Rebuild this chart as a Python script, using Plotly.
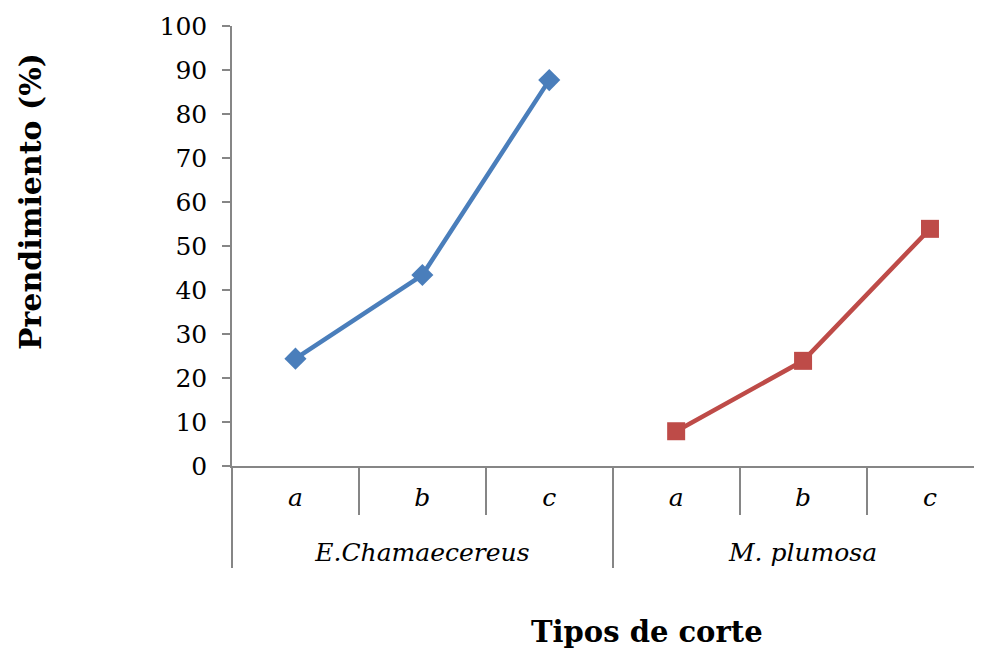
import plotly.graph_objects as go

groups = ["E.Chamaecereus", "M. plumosa"]
cuts = ["a", "b", "c"]
e_cham = [24.4, 43.4, 87.7]
m_plum = [7.9, 23.9, 53.9]
y_ticks = list(range(0, 101, 10))

FONT = "DejaVu Serif"
AX = "#868686"

def xcats(g):
    return [[f"<br><i>{g}</i>"] * 3, [f"<i>{c}</i>" for c in cuts]]

fig = go.Figure()
fig.add_trace(go.Scatter(
    x=xcats(groups[0]), y=e_cham, mode="lines+markers",
    line=dict(color="#4A7EBB", width=4.5),
    marker=dict(symbol="diamond", size=17, color="#4A7EBB"),
    showlegend=False))
fig.add_trace(go.Scatter(
    x=xcats(groups[1]), y=m_plum, mode="lines+markers",
    line=dict(color="#BE4B48", width=4.5),
    marker=dict(symbol="square", size=18, color="#BE4B48"),
    showlegend=False))

# page has an 8px body margin: figure coords = page coords - 8
W, H = 974, 640
fig.update_layout(
    width=W, height=H,
    margin=dict(l=224, r=0, t=18, b=182),
    paper_bgcolor="white", plot_bgcolor="white",
    font=dict(family=FONT, size=25, color="#000000"),
    xaxis=dict(
        type="multicategory",
        range=[-0.5, 5.41],
        showline=True, linecolor=AX, linewidth=1.5,
        ticks="outside", tickson="boundaries", ticklen=47, tickcolor=AX, tickwidth=1.5,
        showdividers=True, dividercolor=AX, dividerwidth=1.5,
        showgrid=False, zeroline=False,
        ticklabelstandoff=8,
        tickfont=dict(family=FONT, size=25),
    ),
    yaxis=dict(
        range=[0, 100], tickvals=y_ticks,
        showline=True, linecolor=AX, linewidth=1.5,
        ticks="outside", ticklen=8, tickcolor=AX, tickwidth=1.5,
        showgrid=False, zeroline=False,
        ticklabelstandoff=10,
        tickfont=dict(family=FONT, size=25),
    ),
    annotations=[
        dict(text="<b>Prendimiento (%)</b>", textangle=-90,
             xref="paper", yref="paper", x=(30 - 232) / 750, y=(466 - 202) / 440,
             xanchor="center", yanchor="middle", showarrow=False,
             font=dict(family=FONT, size=30)),
        dict(text="<b>Tipos de corte</b>",
             xref="paper", yref="paper", x=(647 - 232) / 750, y=-(632 - 466) / 440,
             xanchor="center", yanchor="middle", showarrow=False,
             font=dict(family=FONT, size=29)),
    ],
)

fig.write_html("out.html")
